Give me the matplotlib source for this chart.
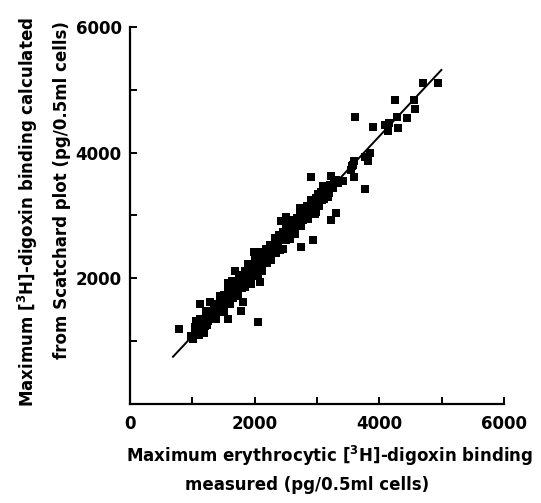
import matplotlib
matplotlib.use("Agg")
import matplotlib.pyplot as plt

plt.rcParams['font.family'] = ['DejaVu Sans']
plt.rcParams['mathtext.default'] = 'regular'

# measured (x) and calculated (y) maximum binding, pg/0.5ml cells
measured = [
    980, 1010, 1040, 1050, 1080, 1100, 1120, 1130, 1150, 1170, 1190, 1200, 1220, 1240, 1250,
    1270, 1290, 1300, 1130, 1280, 1060, 1180, 780,
    1320, 1340, 1360, 1380, 1400, 1420, 1440, 1450, 1470, 1480, 1500, 1510, 1530, 1540, 1560,
    1570, 1580, 1600, 1610, 1630, 1640, 1660, 1670, 1690, 1700, 1570, 1780, 1820, 1460, 1620, 1350,
    1720, 1740, 1750, 1770, 1790, 1800, 1820, 1840, 1850, 1870, 1880, 1900, 1910, 1930, 1940,
    1960, 1970, 1990, 2000, 2020, 2030, 2050, 2060, 2080, 2090, 2110, 2120, 2140, 2160, 2180,
    2200, 1690, 1580, 1990, 2090, 2060, 1860, 2150,
    2220, 2240, 2260, 2270, 2290, 2300, 2320, 2340, 2350, 2370, 2390, 2400, 2420, 2430, 2450,
    2460, 2480, 2500, 2510, 2530, 2550, 2560, 2580, 2600, 2610, 2630, 2650, 2660, 2680, 2700,
    2720, 2740, 2760, 2780, 2800, 2430, 2510, 2720, 2750, 2940, 2300, 2550, 2350,
    2820, 2840, 2860, 2880, 2900, 2920, 2940, 2960, 2980, 3000, 3020, 3040, 3060, 3080, 3100,
    3120, 3150, 3180, 3210, 3250, 3280, 3100, 2910, 3230, 3230, 3310, 3420, 3300, 3340, 2990,
    3060, 3200, 3140,
    1350, 1520, 1750, 1950, 2150, 2350, 2550, 2750, 2950, 1250, 1680, 1880, 2080, 2280, 2480,
    2680, 2880,
    3548, 3559, 3600, 3600, 3616, 3775, 3814, 3850, 3775, 3575, 3903, 4089, 4157, 4132, 4300,
    4280, 4439, 4248, 4555, 4566, 4698, 4937,
]
calculated = [
    1074, 1026, 1227, 1108, 1220, 1091, 1352, 1213, 1124, 1335, 1306, 1237, 1478, 1249, 1380,
    1481, 1352, 1403, 1580, 1620, 1320, 1120, 1190,
    1344, 1575, 1477, 1348, 1589, 1490, 1721, 1452, 1623, 1574, 1735, 1466, 1707, 1648, 1589,
    1840, 1730, 1591, 1822, 1703, 1954, 1685, 1815, 1926, 1757, 1340, 1480, 1620, 1650, 1900, 1480,
    1898, 1719, 2040, 1851, 2012, 1833, 1954, 2115, 1856, 2047, 1978, 2219, 1970, 2141, 1911,
    2213, 2103, 2024, 2295, 2106, 2257, 2058, 2239, 2420, 2150, 2272, 2112, 2393, 2285, 2466,
    2247, 2110, 1920, 2420, 1940, 1300, 2060, 2300,
    2288, 2519, 2431, 2281, 2532, 2423, 2644, 2405, 2556, 2517, 2688, 2439, 2640, 2601, 2462,
    2733, 2604, 2845, 2606, 2727, 2838, 2629, 2750, 2921, 2722, 2883, 2694, 2875, 2956, 2857,
    3058, 2829, 3001, 2922, 3093, 2910, 2980, 3110, 2490, 2600, 2460, 2730, 2500,
    2954, 3145, 2937, 3108, 3239, 3040, 3151, 3023, 3274, 3175, 3346, 3147, 3319, 3240, 3411,
    3262, 3384, 3286, 3478, 3440, 3532, 3460, 3610, 3630, 2930, 3040, 3540, 3560, 3520, 3050,
    3370, 3350, 3300,
    1440, 1610, 1860, 2060, 2260, 2460, 2720, 2900, 3130, 1320, 1790, 2000, 2200, 2410, 2630,
    2830, 3060,
    3722, 3786, 3606, 3870, 4572, 3934, 3870, 3998, 3414, 3800, 4403, 4435, 4466, 4344, 4396,
    4562, 4551, 4833, 4833, 4694, 5114, 5104,
]

# regression line end points
fit_x = [690, 4995]
fit_y = [745, 5315]

x_ticks = [0, 1000, 2000, 3000, 4000, 5000, 6000]
x_ticklabels = ['0', '', '2000', '', '4000', '', '6000']
y_ticks = [0, 1000, 2000, 3000, 4000, 5000, 6000]
y_ticklabels = ['', '', '2000', '', '4000', '', '6000']

W, H = 541, 503
fig = plt.figure(figsize=(W / 100, H / 100), dpi=100)
ax = fig.add_axes([130 / W, 1 - 403.5 / H, (504 - 130) / W, (403.5 - 27) / H])

ax.scatter(measured, calculated, marker='s', s=26, color='black', linewidths=0, zorder=3)
ax.plot(fit_x, fit_y, color='black', linewidth=1.4, zorder=2)

ax.set_xlim(0, 6000)
ax.set_ylim(0, 6000)
ax.set_xticks(x_ticks)
ax.set_xticklabels(x_ticklabels)
ax.set_yticks(y_ticks)
ax.set_yticklabels(y_ticklabels)
for s in ['top', 'right']:
    ax.spines[s].set_visible(False)
for s in ['left', 'bottom']:
    ax.spines[s].set_linewidth(1.6)
ax.tick_params(direction='in', length=5, width=1.4, labelsize=12, colors='black')
ax.tick_params(axis='x', pad=8)
ax.tick_params(axis='y', pad=6)
for lab in ax.get_xticklabels() + ax.get_yticklabels():
    lab.set_fontweight('bold')

fig.text(330 / W, 1 - 456 / H, 'Maximum erythrocytic [$^{3}$H]-digoxin binding',
         ha='center', va='center', fontsize=12, fontweight='bold')
fig.text(307 / W, 1 - 485 / H, 'measured (pg/0.5ml cells)',
         ha='center', va='center', fontsize=12, fontweight='bold')
fig.text(28 / W, 1 - 212 / H, 'Maximum [$^{3}$H]-digoxin binding calculated',
         ha='center', va='center', rotation=90, fontsize=12, fontweight='bold')
fig.text(62 / W, 1 - 190 / H, 'from Scatchard plot (pg/0.5ml cells)',
         ha='center', va='center', rotation=90, fontsize=12, fontweight='bold')

fig.savefig('out.png', dpi=100)
